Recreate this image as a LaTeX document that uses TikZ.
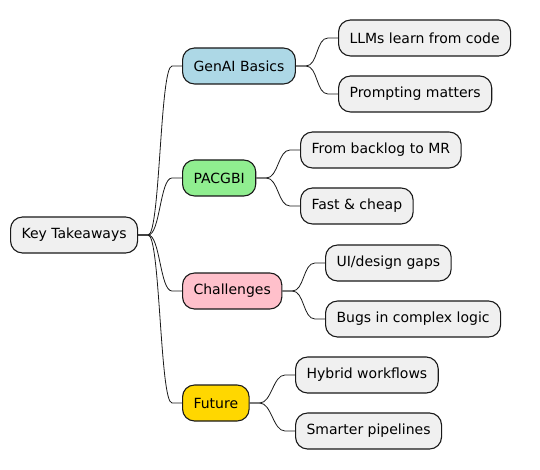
\documentclass[tikz,border=0pt]{standalone}
\usepackage{fontspec}
\setmainfont{DejaVu Sans}
\usepackage{tikz}
\usetikzlibrary{calc}

\begin{document}
\begin{tikzpicture}[x=1pt, y=-1pt, font=\fontsize{14}{16}\selectfont,
	topic/.style={draw=black!90, line width=1.1pt, rounded corners=12pt, fill=black!6, anchor=west, minimum height=36pt, inner xsep=11pt, inner ysep=0pt},
	branch/.style={black!90, line width=0.8pt}]

	\useasboundingbox (0,0) rectangle (540,470);

	\node[topic] (root) at (10,235) {Key Takeaways};

	\node[topic, fill={rgb,255:red,173;green,216;blue,230}] (basics) at (182,66) {GenAI Basics};
	\node[topic, fill={rgb,255:red,144;green,238;blue,144}] (pacgbi) at (182,178) {PACGBI};
	\node[topic, fill={rgb,255:red,255;green,192;blue,203}] (chall) at (182,291) {Challenges};
	\node[topic, fill={rgb,255:red,255;green,215;blue,0}] (future) at (182,403) {Future};

	\node[topic] (llms) at (338,38) {LLMs learn from code};
	\node[topic] (prompt) at (338,94) {Prompting matters};
	\node[topic] (backlog) at (300,150) {From backlog to MR};
	\node[topic] (fast) at (300,206) {Fast \& cheap};
	\node[topic] (gaps) at (325,263) {UI/design gaps};
	\node[topic] (bugs) at (325,319) {Bugs in complex logic};
	\node[topic] (hybrid) at (295,375) {Hybrid workflows};
	\node[topic] (smart) at (295,431) {Smarter pipelines};

	% root branches
	\foreach \kid in {basics, pacgbi, chall, future}
		\draw[branch] (root.east) -- ++(10,0) .. controls +(12,0) and +(-12,0) .. ($(\kid.west)+(-10,0)$) -- (\kid.west);

	% second level
	\foreach \mom/\kid in {basics/llms, basics/prompt, pacgbi/backlog, pacgbi/fast, chall/gaps, chall/bugs, future/hybrid, future/smart}
		\draw[branch] (\mom.east) -- ++(10,0) .. controls +(12,0) and +(-12,0) .. ($(\kid.west)+(-10,0)$) -- (\kid.west);

\end{tikzpicture}
\end{document}
